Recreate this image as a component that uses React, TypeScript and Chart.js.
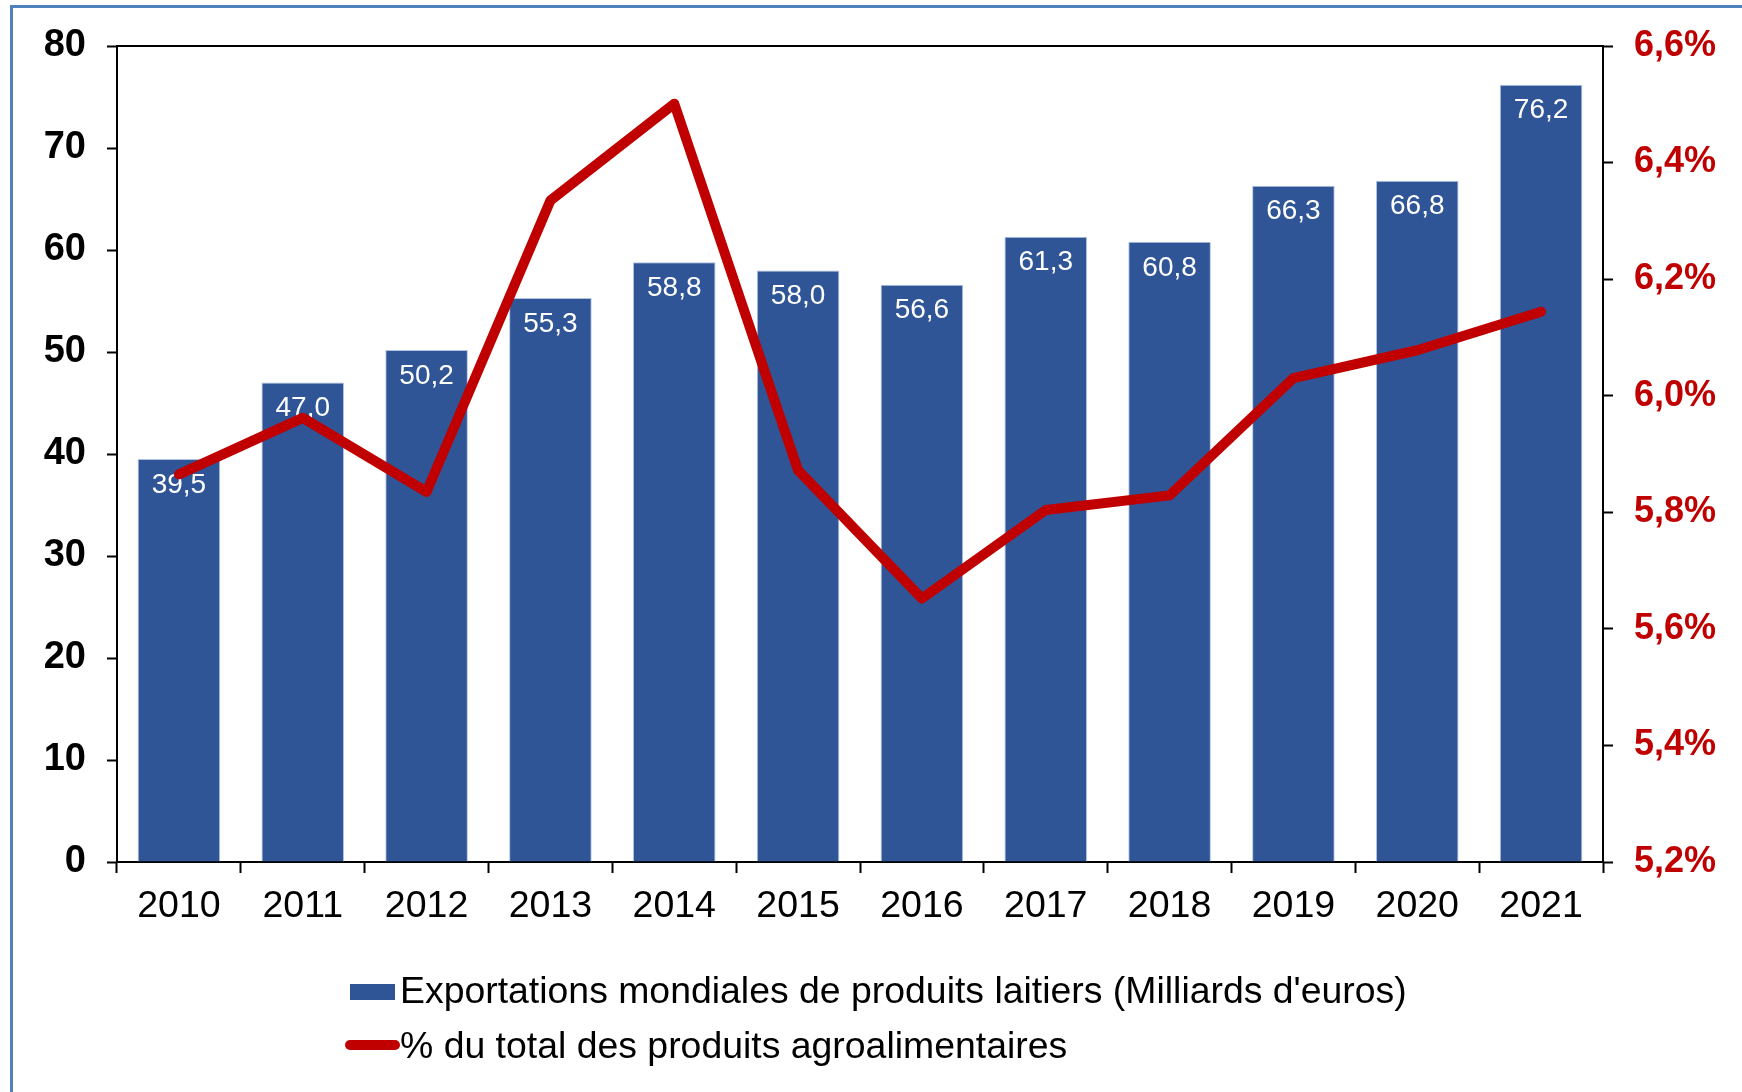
import React, { useEffect, useRef } from "react";
import { Chart, registerables } from "chart.js";

Chart.register(...registerables);

const years = ["2010", "2011", "2012", "2013", "2014", "2015", "2016", "2017", "2018", "2019", "2020", "2021"];
const exportValues = [39.5, 47.0, 50.2, 55.3, 58.8, 58.0, 56.6, 61.3, 60.8, 66.3, 66.8, 76.2];
const shareValues = [5.865, 5.962, 5.835, 6.335, 6.501, 5.872, 5.652, 5.804, 5.829, 6.03, 6.078, 6.144];
const legendLabels = [
  "Exportations mondiales de produits laitiers (Milliards d'euros)",
  "% du total des produits agroalimentaires",
];

const FONT = "'Liberation Sans', Arial, sans-serif";
const BAR_COLOR = "#2F5597";
const LINE_COLOR = "#C00000";

const fmt = (v: number) => v.toFixed(1).replace(".", ",");

const barLabels = {
  id: "barLabels",
  afterDatasetDraw(chart: any, args: any) {
    if (args.index !== 0) return;
    const ctx = chart.ctx;
    ctx.save();
    ctx.fillStyle = "#FFFFFF";
    ctx.font = `28px ${FONT}`;
    ctx.textAlign = "center";
    ctx.textBaseline = "middle";
    args.meta.data.forEach((el: any, i: number) => {
      ctx.fillText(fmt(exportValues[i]), el.x, el.y + 26);
    });
    ctx.restore();
  },
};

export default function App() {
  const ref = useRef<HTMLCanvasElement>(null);

  useEffect(() => {
    if (!ref.current) return;
    const chart = new Chart(ref.current, {
      type: "bar",
      data: {
        labels: years,
        datasets: [
          {
            type: "bar",
            label: legendLabels[0],
            data: exportValues,
            backgroundColor: BAR_COLOR,
            borderColor: "rgba(170,190,225,0.9)",
            borderWidth: 1,
            barPercentage: 0.667,
            categoryPercentage: 1,
            yAxisID: "y",
            order: 1,
          },
          {
            type: "line",
            label: legendLabels[1],
            data: shareValues,
            borderColor: LINE_COLOR,
            backgroundColor: LINE_COLOR,
            borderWidth: 10,
            pointRadius: 0,
            borderJoinStyle: "round",
            borderCapStyle: "round",
            tension: 0,
            yAxisID: "y1",
            order: 0,
          } as any,
        ],
      },
      options: {
        responsive: false,
        animation: false,
        layout: { padding: { left: 0, right: 0, top: 46, bottom: 0 } },
        plugins: {
          legend: { display: false },
          tooltip: { enabled: false },
        },
        scales: {
          x: {
            position: "bottom",
            grid: {
              offset: true,
              drawOnChartArea: false,
              drawTicks: true,
              tickLength: 11,
              tickColor: "#000",
              tickWidth: 2,
            },
            border: { display: true, color: "#000", width: 2 },
            ticks: {
              color: "#000",
              font: { family: FONT, size: 37.5 },
              padding: 11,
              maxRotation: 0,
              autoSkip: false,
            },
            afterFit: (s: any) => {
              s.height = 230;
            },
          },
          x2: {
            position: "top",
            grid: { display: false, drawTicks: false },
            border: { display: true, color: "#000", width: 2 },
            ticks: { display: false },
            afterFit: (s: any) => {
              s.height = 0;
            },
          },
          y: {
            position: "left",
            min: 0,
            max: 80,
            ticks: {
              stepSize: 10,
              color: "#000",
              font: { family: FONT, size: 38, weight: "bold" },
              padding: 21,
            },
            grid: {
              drawOnChartArea: false,
              drawTicks: true,
              tickLength: 10,
              tickColor: "#000",
              tickWidth: 2,
            },
            border: { display: true, color: "#000", width: 2 },
            afterFit: (s: any) => {
              s.width = 117;
            },
          },
          y1: {
            position: "right",
            min: 5.2,
            max: 6.6,
            ticks: {
              stepSize: 0.2,
              color: LINE_COLOR,
              font: { family: FONT, size: 36, weight: "bold" },
              padding: 21,
              callback: (v: any) => fmt(Number(v)) + "%",
            },
            grid: {
              drawOnChartArea: false,
              drawTicks: true,
              tickLength: 10,
              tickColor: "#000",
              tickWidth: 2,
            },
            border: { display: true, color: "#000", width: 2 },
            afterFit: (s: any) => {
              s.width = 139;
            },
          },
        },
      } as any,
      plugins: [barLabels],
    });
    return () => chart.destroy();
  }, []);

  return (
    <div
      style={{
        position: "absolute",
        left: 0,
        top: 0,
        width: 1742,
        height: 1092,
        overflow: "hidden",
        background: "#fff",
        fontFamily: FONT,
      }}
    >
      <div
        style={{
          position: "absolute",
          left: 10,
          top: 5,
          width: 1800,
          height: 1200,
          border: "3px solid #4F81BD",
          boxSizing: "border-box",
        }}
      />
      <canvas ref={ref} width={1742} height={1092} style={{ position: "absolute", left: 0, top: 0, display: "block" }} />
      <div style={{ position: "absolute", left: 350, top: 984, width: 45, height: 16, background: BAR_COLOR }} />
      <div
        style={{
          position: "absolute",
          left: 400,
          top: 972,
          fontSize: 37.4,
          lineHeight: "37px",
          color: "#000",
          whiteSpace: "nowrap",
        }}
      >
        {legendLabels[0]}
      </div>
      <div
        style={{
          position: "absolute",
          left: 345,
          top: 1040,
          width: 55,
          height: 10,
          borderRadius: 5,
          background: LINE_COLOR,
        }}
      />
      <div
        style={{
          position: "absolute",
          left: 400,
          top: 1027,
          fontSize: 37.4,
          lineHeight: "37px",
          color: "#000",
          whiteSpace: "nowrap",
        }}
      >
        {legendLabels[1]}
      </div>
    </div>
  );
}
